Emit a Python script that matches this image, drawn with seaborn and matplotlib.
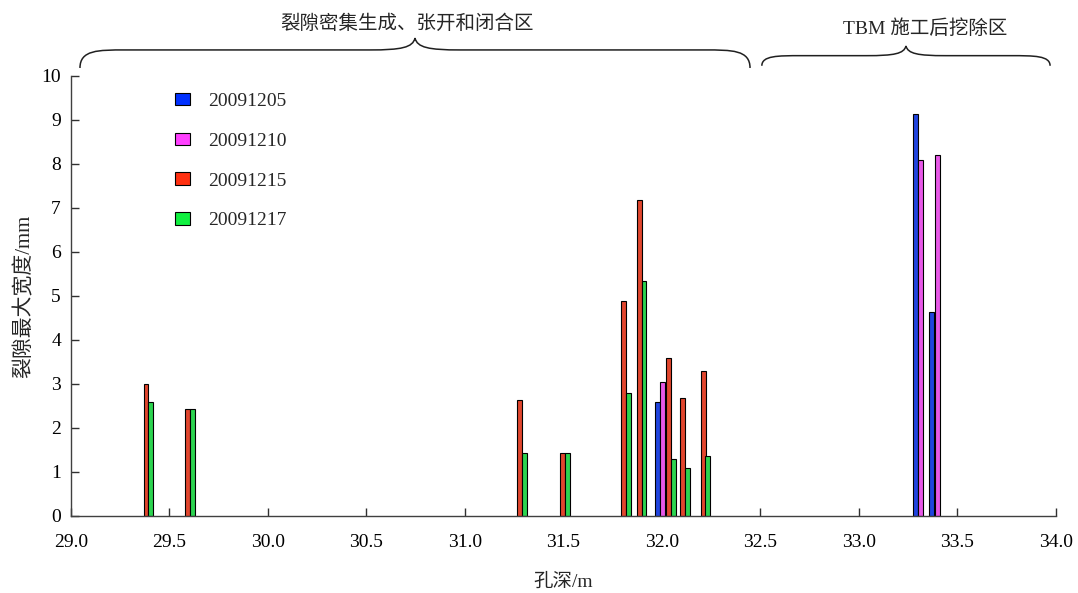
import numpy as np
import pandas as pd
import matplotlib
matplotlib.use('Agg')
import matplotlib.pyplot as plt
import seaborn as sns
from matplotlib.path import Path
from matplotlib.patches import PathPatch, Patch
from matplotlib.transforms import blended_transform_factory


dates = ['20091205', '20091210', '20091215', '20091217']
colors = ['#0030ff', '#ff40ff', '#ff3010', '#10f040']

# depth (m) and max crack width (mm) for each date
depth_1205 = [31.979, 33.287, 33.371]
width_1205 = [2.58, 9.13, 4.64]

depth_1210 = [32.004, 33.312, 33.400]
width_1210 = [3.04, 8.08, 8.20]

depth_1215 = [29.382, 29.593, 31.279, 31.495, 31.805, 31.886, 32.035, 32.105, 32.211]
width_1215 = [3.00, 2.42, 2.64, 1.42, 4.89, 7.18, 3.60, 2.67, 3.29]

depth_1217 = [29.406, 29.618, 31.305, 31.521, 31.830, 31.910, 32.058, 32.130, 32.234]
width_1217 = [2.60, 2.42, 1.42, 1.42, 2.79, 5.34, 1.30, 1.10, 1.36]

xticks = [29.0, 29.5, 30.0, 30.5, 31.0, 31.5, 32.0, 32.5, 33.0, 33.5, 34.0]
yticks = [0, 1, 2, 3, 4, 5, 6, 7, 8, 9, 10]

zone_labels = ['裂隙密集生成、张开和闭合区', 'TBM 施工后挖除区']

rows = []
for d, xs, ys in zip(dates, [depth_1205, depth_1210, depth_1215, depth_1217],
                     [width_1205, width_1210, width_1215, width_1217]):
    for xv, yv in zip(xs, ys):
        rows.append({'depth': xv, 'crack': yv, 'date': d})
df = pd.DataFrame(rows)

sns.set_style('ticks')
plt.rcParams['font.family'] = ['Liberation Serif', 'Noto Sans CJK SC']
plt.rcParams['font.size'] = 14

fig = plt.figure(figsize=(10.78, 5.93), dpi=100)
ax = fig.add_axes([0.0656, 0.130, 0.9138, 0.742])

bar_w = 0.025
min_gap = np.min(np.diff(np.unique(df['depth'])))
sns.barplot(data=df, x='depth', y='crack', hue='date', hue_order=dates,
            palette=colors, native_scale=True, dodge=False, errorbar=None,
            width=bar_w / min_gap, edgecolor='black', linewidth=0.8,
            legend=False, ax=ax)

ax.set_xlim(29, 34)
ax.set_ylim(0, 10)
ax.set_xticks(xticks)
ax.set_xticklabels([f'{v:.1f}' for v in xticks])
ax.set_yticks(yticks)
ax.tick_params(axis='both', direction='in', length=5.5, width=1, colors='#303030',
               labelcolor='black', labelsize=14)
ax.tick_params(axis='x', pad=13)
ax.tick_params(axis='y', pad=7)
sns.despine(ax=ax)
for s in ['left', 'bottom']:
    ax.spines[s].set_color('#404040')
    ax.spines[s].set_linewidth(1)

ax.set_xlabel('孔深/m', fontsize=14, labelpad=16)
ax.set_ylabel('裂隙最大宽度/mm', fontsize=15, labelpad=5)

handles = [Patch(facecolor=c, edgecolor='black', linewidth=0.8) for c in colors]
ax.legend(handles, dates, loc='upper left', bbox_to_anchor=(0.106, 0.962),
          frameon=False, borderaxespad=0, borderpad=0, fontsize=14,
          handlelength=0.77, handleheight=0.62, handletextpad=0.93,
          labelspacing=1.17)

# curly braces marking the zones
trans = blended_transform_factory(ax.transData, ax.transAxes)


def brace(x0, x1, y_end, y_arm, y_tip, d):
    xm = (x0 + x1) / 2
    verts = [(x0, y_end), (x0, y_arm), (x0 + d * 0.4, y_arm), (x0 + d, y_arm),
             (xm - d, y_arm),
             (xm - d * 0.3, y_arm), (xm - d * 0.05, y_arm + 0.2 * (y_tip - y_arm)), (xm, y_tip),
             (xm + d * 0.05, y_arm + 0.2 * (y_tip - y_arm)), (xm + d * 0.3, y_arm), (xm + d, y_arm),
             (x1 - d, y_arm),
             (x1 - d * 0.4, y_arm), (x1, y_arm), (x1, y_end)]
    codes = [Path.MOVETO, Path.CURVE4, Path.CURVE4, Path.CURVE4,
             Path.LINETO,
             Path.CURVE4, Path.CURVE4, Path.CURVE4,
             Path.CURVE4, Path.CURVE4, Path.CURVE4,
             Path.LINETO,
             Path.CURVE4, Path.CURVE4, Path.CURVE4]
    p = PathPatch(Path(verts, codes), transform=trans, facecolor='none',
                  edgecolor='#202020', linewidth=1.1, clip_on=False)
    ax.add_patch(p)


brace(29.047, 32.448, 1.018, 1.059, 1.086, 0.23)
brace(32.508, 33.971, 1.023, 1.046, 1.068, 0.2)

ax.text(30.705, 1.118, zone_labels[0], transform=trans, ha='center', va='center', fontsize=14)
ax.text(33.337, 1.108, zone_labels[1], transform=trans, ha='center', va='center', fontsize=14)

fig.savefig('out.png', dpi=100)
